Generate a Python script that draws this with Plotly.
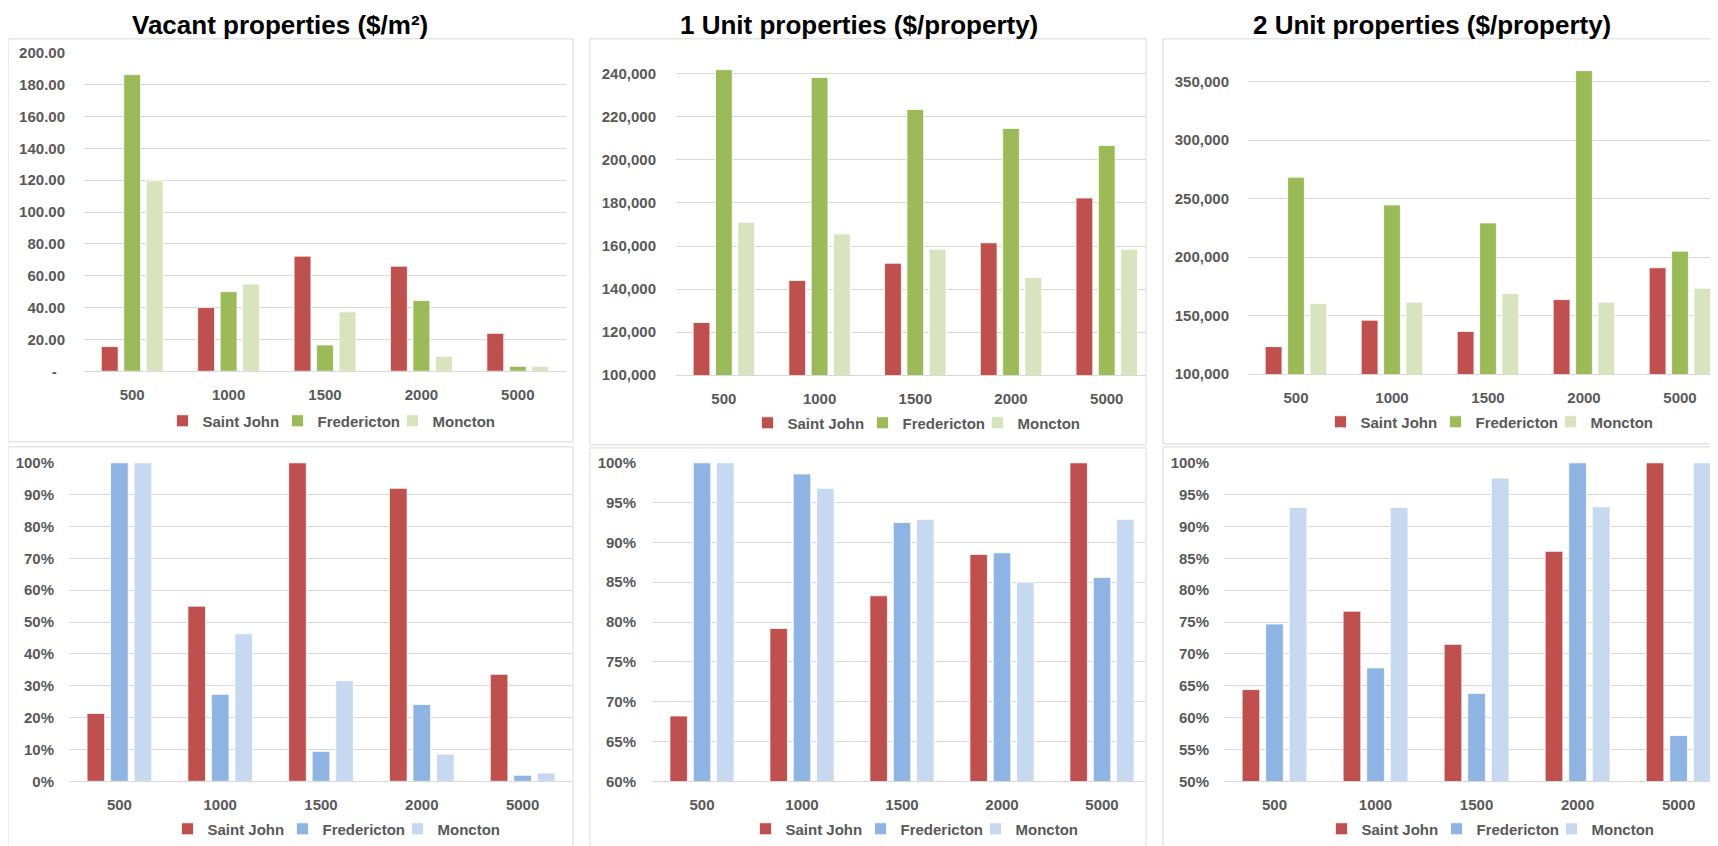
import plotly.graph_objects as go

# The page body has an 8px default margin, so the figure is drawn 8px smaller
# and all pixel positions are offset by 8px.
PAGE_W, PAGE_H = 1718, 846
OFF = 8
W, H = PAGE_W - OFF, PAGE_H - OFF

categories = ["500", "1000", "1500", "2000", "5000"]
cities = ["Saint John", "Fredericton", "Moncton"]

# Vacant properties ($/m2)
vacant_saint_john = [15.5, 40.0, 72.3, 66.0, 23.8]
vacant_fredericton = [186.3, 50.0, 16.5, 44.4, 3.1]
vacant_moncton = [119.6, 54.8, 37.3, 9.4, 3.1]

# 1 Unit properties ($/property)
unit1_saint_john = [124500, 144000, 152000, 161500, 182300]
unit1_fredericton = [241900, 238300, 223400, 214600, 206700]
unit1_moncton = [171000, 165600, 158500, 145400, 158500]

# 2 Unit properties ($/property)
unit2_saint_john = [123600, 146200, 136600, 163800, 191000]
unit2_fredericton = [268400, 244600, 229300, 359400, 205200]
unit2_moncton = [160400, 161500, 168900, 161500, 173400]

# Percentages (bottom row)
vacant_pct_saint_john = [21.3, 55.0, 100, 92.0, 33.6]
vacant_pct_fredericton = [100, 27.3, 9.4, 24.1, 1.9]
vacant_pct_moncton = [100, 46.3, 31.6, 8.5, 2.6]

unit1_pct_saint_john = [68.2, 79.2, 83.3, 88.5, 100]
unit1_pct_fredericton = [100, 98.6, 92.5, 88.7, 85.6]
unit1_pct_moncton = [100, 96.8, 92.9, 85.0, 92.9]

unit2_pct_saint_john = [64.4, 76.7, 71.5, 86.1, 100]
unit2_pct_fredericton = [74.7, 67.8, 63.8, 100, 57.2]
unit2_pct_moncton = [93.0, 93.0, 97.6, 93.1, 100]

# Tick values and labels
vacant_ticks = [0, 20, 40, 60, 80, 100, 120, 140, 160, 180, 200]
vacant_tick_labels = ["-\u00a0\u00a0", "20.00", "40.00", "60.00", "80.00", "100.00",
                      "120.00", "140.00", "160.00", "180.00", "200.00"]
unit1_ticks = [100000, 120000, 140000, 160000, 180000, 200000, 220000, 240000]
unit1_tick_labels = ["100,000", "120,000", "140,000", "160,000", "180,000",
                     "200,000", "220,000", "240,000"]
unit2_ticks = [100000, 150000, 200000, 250000, 300000, 350000]
unit2_tick_labels = ["100,000", "150,000", "200,000", "250,000", "300,000", "350,000"]
vacant_pct_ticks = [0, 10, 20, 30, 40, 50, 60, 70, 80, 90, 100]
vacant_pct_tick_labels = ["0%", "10%", "20%", "30%", "40%", "50%",
                          "60%", "70%", "80%", "90%", "100%"]
unit1_pct_ticks = [60, 65, 70, 75, 80, 85, 90, 95, 100]
unit1_pct_tick_labels = ["60%", "65%", "70%", "75%", "80%", "85%", "90%", "95%", "100%"]
unit2_pct_ticks = [50, 55, 60, 65, 70, 75, 80, 85, 90, 95, 100]
unit2_pct_tick_labels = ["50%", "55%", "60%", "65%", "70%", "75%",
                         "80%", "85%", "90%", "95%", "100%"]

titles = ["Vacant properties ($/m\u00b2)",
          "1 Unit properties ($/property)",
          "2 Unit properties ($/property)"]

red = "#C0504D"
green_colors = [red, "#9BBB59", "#D7E4BD"]
blue_colors = [red, "#8DB4E2", "#C6D9F1"]

GRID = "#D9D9D9"
TXT = "#595959"
FONT = "Liberation Sans, Arial, sans-serif"


def fx(px):
    return (px - OFF) / W


def fy(py):
    return 1 - (py - OFF) / H


panels = [
    # top row
    dict(series=[vacant_saint_john, vacant_fredericton, vacant_moncton], colors=green_colors,
         xpx=(84, 566), ypx=(53, 373), xr=[-0.5, 4.5], yr=[0, 200],
         tickvals=vacant_ticks, ticktext=vacant_tick_labels,
         ticklen=15, leg=(335, 423)),
    dict(series=[unit1_saint_john, unit1_fredericton, unit1_moncton], colors=green_colors,
         xpx=(676, 1146), ypx=(52.4, 377), xr=[-0.5, 4.41], yr=[100000, 250000],
         tickvals=unit1_ticks, ticktext=unit1_tick_labels,
         ticklen=16, leg=(920, 425)),
    dict(series=[unit2_saint_john, unit2_fredericton, unit2_moncton], colors=green_colors,
         xpx=(1248, 1718), ypx=(58.5, 376), xr=[-0.5, 4.396], yr=[100000, 370000],
         tickvals=unit2_ticks, ticktext=unit2_tick_labels,
         ticklen=15, leg=(1493, 424)),
    # bottom row
    dict(series=[vacant_pct_saint_john, vacant_pct_fredericton, vacant_pct_moncton], colors=blue_colors,
         xpx=(69, 573), ypx=(465, 785), xr=[-0.5, 4.5], yr=[0, 100],
         tickvals=vacant_pct_ticks, ticktext=vacant_pct_tick_labels,
         ticklen=11, leg=(340, 833)),
    dict(series=[unit1_pct_saint_john, unit1_pct_fredericton, unit1_pct_moncton], colors=blue_colors,
         xpx=(652, 1145), ypx=(465, 785), xr=[-0.5, 4.43], yr=[60, 100],
         tickvals=unit1_pct_ticks, ticktext=unit1_pct_tick_labels,
         ticklen=12, leg=(918, 833)),
    dict(series=[unit2_pct_saint_john, unit2_pct_fredericton, unit2_pct_moncton], colors=blue_colors,
         xpx=(1224, 1718), ypx=(465, 785), xr=[-0.5, 4.39], yr=[50, 100],
         tickvals=unit2_pct_ticks, ticktext=unit2_pct_tick_labels,
         ticklen=11, leg=(1494, 833)),
]

fig = go.Figure()
layout = dict(
    width=W, height=H, autosize=False,
    margin=dict(l=0, r=0, t=0, b=0, pad=0),
    paper_bgcolor="white", plot_bgcolor="white",
    template="none",
    barmode="group", bargap=0.3, bargroupgap=0.25,
    font=dict(family=FONT, size=15, color=TXT),
)

for i, p in enumerate(panels):
    n = i + 1
    sfx = "" if n == 1 else str(n)
    leg_name = "legend" if n == 1 else f"legend{n}"
    for city, vals, col in zip(cities, p["series"], p["colors"]):
        fig.add_trace(go.Bar(
            x=categories, y=vals, name=city,
            marker=dict(color=col, line=dict(color="white", width=0.8)),
            xaxis="x" + sfx, yaxis="y" + sfx, legend=leg_name,
            hoverinfo="x+y+name",
        ))
    x0, x1 = p["xpx"]
    ytop, ybot = p["ypx"]
    layout["xaxis" + sfx] = dict(
        domain=[fx(x0), min(fx(x1), 1.0)], range=p["xr"], type="category",
        anchor="y" + sfx, showgrid=False, zeroline=False,
        showline=True, linecolor=GRID, linewidth=1,
        ticks="outside", ticklen=10, tickcolor="rgba(0,0,0,0)",
        tickfont=dict(family=FONT, size=15, color=TXT, weight="bold"),
        fixedrange=True, automargin=False,
    )
    layout["yaxis" + sfx] = dict(
        domain=[fy(ybot), fy(ytop)], range=p["yr"], anchor="x" + sfx,
        showgrid=True, gridcolor=GRID, gridwidth=1, zeroline=False,
        showline=False, tickmode="array",
        tickvals=p["tickvals"], ticktext=p["ticktext"],
        ticks="outside", ticklen=p["ticklen"], tickcolor="rgba(0,0,0,0)",
        tickfont=dict(family=FONT, size=15, color=TXT, weight="bold"),
        fixedrange=True, automargin=False,
    )
    lx, ly = p["leg"]
    layout[leg_name] = dict(
        orientation="h", x=fx(lx), y=fy(ly), xanchor="center", yanchor="middle",
        font=dict(family=FONT, size=15, color=TXT, weight="bold"),
        bgcolor="rgba(0,0,0,0)", traceorder="normal", itemwidth=30,
        entrywidth=70, entrywidthmode="pixels",
        tracegroupgap=0,
    )

# chart frames
frames_px = [
    (8, 39, 573, 444), (590, 39, 1146, 447), (1163, 39, 1740, 446),
    (8, 449, 573, 870), (590, 450, 1146, 870), (1163, 449, 1740, 870),
]
shapes = []
for (a, b, c, d) in frames_px:
    shapes.append(dict(type="rect", xref="paper", yref="paper",
                       x0=fx(a), x1=fx(c), y0=fy(d), y1=fy(b),
                       line=dict(color=GRID, width=1), fillcolor="rgba(0,0,0,0)",
                       layer="below"))
layout["shapes"] = shapes

title_centers = [280, 859, 1432]
annotations = []
for t, cx in zip(titles, title_centers):
    annotations.append(dict(text=t, x=fx(cx), y=1.0, xref="paper", yref="paper",
                            xanchor="center", yanchor="top", showarrow=False,
                            font=dict(family=FONT, size=26, color="black", weight="bold")))
layout["annotations"] = annotations

fig.update_layout(**layout)
fig.write_html("out.html", config={"displayModeBar": False})
